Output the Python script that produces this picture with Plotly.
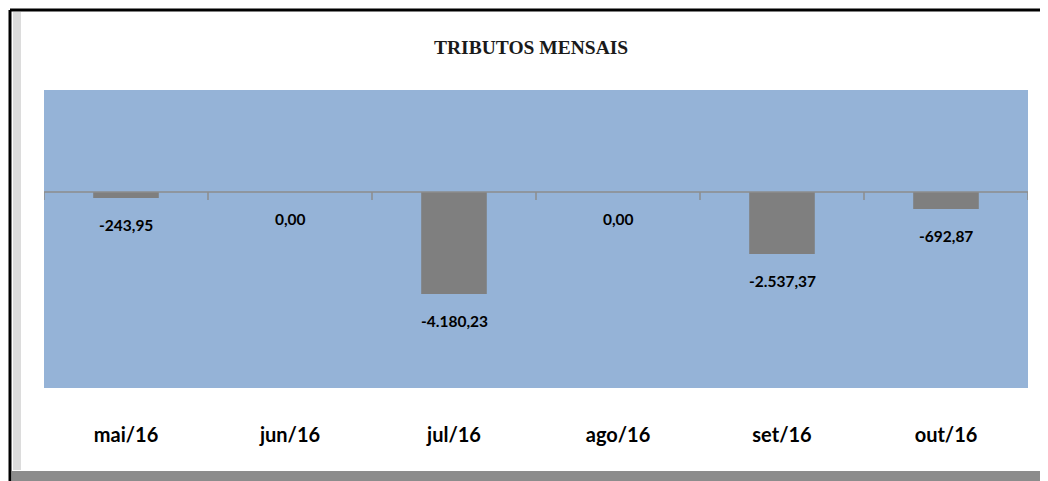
import plotly.graph_objects as go

categories = ["mai/16", "jun/16", "jul/16", "ago/16", "set/16", "out/16"]
values = [-243.95, 0.00, -4180.23, 0.00, -2537.37, -692.87]
labels = ["-243,95", "0,00", "-4.180,23", "0,00", "-2.537,37", "-692,87"]
title_text = "TRIBUTOS MENSAIS"

SANS = "Lato, Carlito, Calibri, sans-serif"

# the page body has an 8px margin, so the figure is drawn 8px in from the window edges
W, H = 1040, 473
L, R, T, B = 36, 20, 82, 93
pw, ph = W - L - R, H - T - B

fig = go.Figure()
fig.add_trace(go.Bar(
    x=list(range(len(categories))), y=values,
    width=0.40,
    marker=dict(color="#7F7F7F", line=dict(width=0)),
    hoverinfo="skip",
))

for i, (v, t) in enumerate(zip(values, labels)):
    fig.add_annotation(x=i, y=v, text="<b>%s</b>" % t, showarrow=False,
                       yanchor="middle", yshift=-27,
                       font=dict(family=SANS, size=15.5, color="#000000"))

n = len(categories)
fig.add_shape(type="line", xref="x", yref="y", x0=-0.5, x1=n - 0.5, y0=0, y1=0,
              line=dict(color="#8C8C8C", width=1.5))
for k in range(n + 1):
    fig.add_shape(type="line", xref="x", yref="y", x0=k - 0.5, x1=k - 0.5,
                  y0=0, y1=-330, line=dict(color="#8C8C8C", width=1.5))

fig.update_layout(
    width=W, height=H,
    margin=dict(l=L, r=R, t=T, b=B),
    paper_bgcolor="#FFFFFF",
    plot_bgcolor="#95B3D7",
    showlegend=False,
    title=dict(text="<b>%s</b>" % title_text, x=0.503, xanchor="center", y=1 - 39 / H, yanchor="middle",
               font=dict(family="Liberation Serif, DejaVu Serif, serif", size=19.5, color="#1A1A1A")),
    xaxis=dict(tickmode="array", tickvals=list(range(n)), ticktext=["<b>%s</b>" % c for c in categories],
               range=[-0.5, n - 0.5], showgrid=False, zeroline=False, showline=False,
               ticks="", tickfont=dict(family=SANS, size=20, color="#000000"), ticklabelstandoff=33),
    yaxis=dict(range=[-8030, 4180], showgrid=False, zeroline=False, showticklabels=False,
               showline=False, ticks=""),
)

def px(xp):
    return (xp - L) / pw
def py(yp):
    return (H - B - yp) / ph

# inner left bevel
fig.add_shape(type="rect", xref="paper", yref="paper", x0=px(5), x1=px(13), y0=py(462), y1=py(4),
              line=dict(width=0), fillcolor="#DCDCDC", layer="below")
# bottom shadow band
fig.add_shape(type="rect", xref="paper", yref="paper", x0=px(4), x1=px(W), y0=py(H), y1=py(463),
              line=dict(width=0), fillcolor="#8C8C8C", layer="below")
# black frame lines
fig.add_shape(type="line", xref="paper", yref="paper", x0=px(2), x1=px(W), y0=py(2), y1=py(2),
              line=dict(color="#000000", width=3))
fig.add_shape(type="line", xref="paper", yref="paper", x0=px(2), x1=px(2), y0=py(2), y1=py(H),
              line=dict(color="#000000", width=3))

fig.write_html("out.html")
